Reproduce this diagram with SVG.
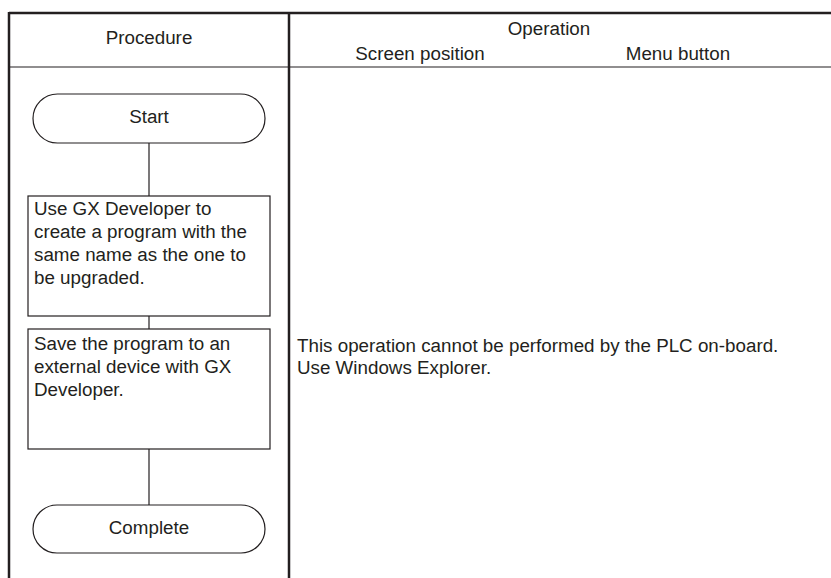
<svg xmlns="http://www.w3.org/2000/svg" width="831" height="578" viewBox="0 0 831 578">
<style>
text{font-family:"Liberation Sans",Arial,sans-serif;font-size:18.8px;fill:#231f20}
.c{text-anchor:middle}
.thick{stroke:#231f20;stroke-width:2.5;fill:none}
.thin{stroke:#231f20;stroke-width:1.2;fill:none}
.shape{stroke:#231f20;stroke-width:1.2;fill:#fff}
</style>
<rect width="831" height="578" fill="#fff"/>
<g id="table">
<line class="thick" x1="9" y1="13" x2="831" y2="13"/>
<line class="thin" x1="9" y1="67" x2="831" y2="67"/>
<line class="thick" x1="9" y1="12" x2="9" y2="578"/>
<line class="thick" x1="289" y1="12" x2="289" y2="578"/>
<text class="c" x="149" y="44">Procedure</text>
<text class="c" x="549" y="35">Operation</text>
<text class="c" x="420" y="60">Screen position</text>
<text class="c" x="678" y="60">Menu button</text>
<text x="297" y="352">This operation cannot be performed by the PLC on-board.</text>
<text x="297" y="374">Use Windows Explorer.</text>
</g>
<g id="connectors">
<line class="thin" x1="149" y1="143" x2="149" y2="196"/>
<line class="thin" x1="149" y1="316" x2="149" y2="329"/>
<line class="thin" x1="149" y1="449" x2="149" y2="505"/>
</g>
<g id="start">
<rect class="shape" x="33" y="94" width="232" height="49" rx="24.5"/>
<text class="c" x="149" y="123">Start</text>
</g>
<g id="step1">
<rect class="shape" x="28" y="196" width="242" height="120"/>
<text x="34" y="215">Use GX Developer to</text>
<text x="34" y="238">create a program with the</text>
<text x="34" y="261">same name as the one to</text>
<text x="34" y="284">be upgraded.</text>
</g>
<g id="step2">
<rect class="shape" x="28" y="329" width="242" height="120"/>
<text x="34" y="350">Save the program to an</text>
<text x="34" y="373">external device with GX</text>
<text x="34" y="396">Developer.</text>
</g>
<g id="complete">
<rect class="shape" x="33" y="505" width="232" height="48" rx="24"/>
<text class="c" x="149" y="534">Complete</text>
</g>
</svg>
